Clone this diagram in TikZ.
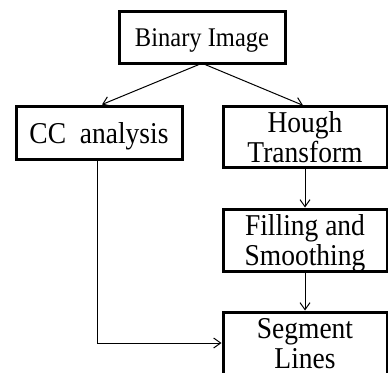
\documentclass[tikz,border=0pt]{standalone}
\usepackage{fontspec}
\setmainfont{Liberation Serif}
\usetikzlibrary{arrows.meta}

% text of the boxes, a little taller than wide as in the scan
\newcommand{\boxtext}[1]{\raisebox{-4.5pt}[\height][\depth]{\scalebox{1}[1.1]{\begin{tabular}{@{}c@{}}#1\end{tabular}}}}

\begin{document}
\begin{tikzpicture}[x=1pt,y=-1pt,
  blk/.style={draw, line width=3pt, inner sep=0pt, align=center,
    font=\fontsize{27.5}{27.3}\selectfont},
  flow/.style={line width=1pt, -{Straight Barb[length=7pt,width=10pt]}}]

\useasboundingbox (0,0) rectangle (388,372);
\clip (0,0) rectangle (388,372);

%% boxes
\node[blk, minimum width=166pt, minimum height=52pt,
  font=\fontsize{24.5}{24}\selectfont] (bin) at (202,37) {\boxtext{Binary Image}};
\node[blk, minimum width=166pt, minimum height=53pt] (cc) at (99,132.5) {\boxtext{CC\ \ analysis}};
\node[blk, minimum width=164pt, minimum height=60pt] (hough) at (305,137) {\boxtext{Hough\\Transform}};
\node[blk, minimum width=164pt, minimum height=62pt] (fill) at (305,240) {\boxtext{Filling and\\Smoothing}};
\node[blk, minimum width=164pt, minimum height=62pt] (seg) at (305,343) {\boxtext{Segment\\Lines}};

%%% arrows
\draw[flow] ([xshift=-3pt]bin.south) -- ([xshift=3pt]cc.north);
\draw[flow] ([xshift=3pt]bin.south) -- ([xshift=-2pt]hough.north);
\draw[flow] (hough) -- (fill);
\draw[flow] (fill) -- (seg);
\draw[flow] ([xshift=-2pt]cc.south) |- (seg.west);

\end{tikzpicture}
\end{document}
